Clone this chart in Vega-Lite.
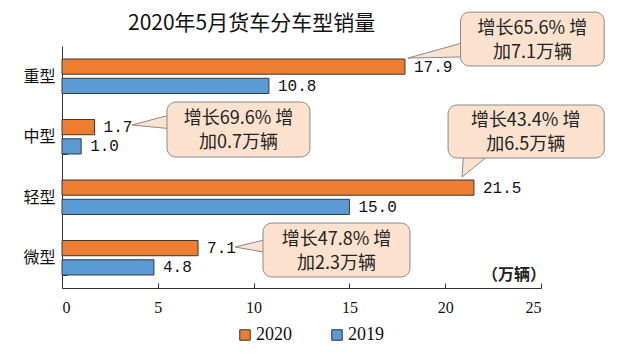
{
  "$schema": "https://vega.github.io/schema/vega-lite/v6.json",
  "width": 479,
  "height": 242,
  "autosize": "none",
  "padding": {"left": 62, "top": 46, "right": 88, "bottom": 66},
  "background": "white",
  "config": {"view": {"stroke": null}, "font": "Noto Sans CJK SC"},
  "title": {
    "text": "2020年5月货车分车型销量",
    "anchor": "start",
    "frame": "group",
    "dx": 66,
    "offset": -22,
    "fontSize": 21,
    "font": "Noto Sans CJK SC",
    "fontWeight": "normal",
    "color": "#111"
  },
  "datasets": {
    "bars": [
      {"cat": "重型", "year": "2020", "v": 17.9},
      {"cat": "重型", "year": "2019", "v": 10.8},
      {"cat": "中型", "year": "2020", "v": 1.7},
      {"cat": "中型", "year": "2019", "v": 1.0},
      {"cat": "轻型", "year": "2020", "v": 21.5},
      {"cat": "轻型", "year": "2019", "v": 15.0},
      {"cat": "微型", "year": "2020", "v": 7.1},
      {"cat": "微型", "year": "2019", "v": 4.8}
    ],
    "boxes": [
      {"id": 1, "x1": 20.8, "x2": 28.3, "y1": -0.56, "y2": 0.33, "tx": 24.55, "ty": -0.28, "t": "增长65.6% 增\n加7.1万辆"},
      {"id": 2, "x1": 5.48, "x2": 12.94, "y1": 0.926, "y2": 1.835, "tx": 9.21, "ty": 1.21, "t": "增长69.6% 增\n加0.7万辆"},
      {"id": 3, "x1": 20.15, "x2": 28.3, "y1": 0.975, "y2": 1.851, "tx": 24.2, "ty": 1.24, "t": "增长43.4% 增\n加6.5万辆"},
      {"id": 4, "x1": 10.49, "x2": 18.16, "y1": 2.926, "y2": 3.818, "tx": 14.33, "ty": 3.2, "t": "增长47.8% 增\n加2.3万辆"}
    ],
    "ptrV": [
      {"pid": 1, "x": 18.05, "ya": 0.2, "yb": 0.2},
      {"pid": 1, "x": 21.0, "ya": -0.06, "yb": 0.18},
      {"pid": 2, "x": 3.65, "ya": 1.306, "yb": 1.306},
      {"pid": 2, "x": 5.75, "ya": 1.13, "yb": 1.37},
      {"pid": 4, "x": 9.03, "ya": 3.322, "yb": 3.322},
      {"pid": 4, "x": 10.75, "ya": 3.19, "yb": 3.42}
    ],
    "ptrH": [
      {"pid": 3, "y": 2.165, "xa": 20.88, "xb": 20.88},
      {"pid": 3, "y": 1.8, "xa": 20.95, "xb": 22.3}
    ],
    "unit": [{"x": 25, "y": 3.78, "t": "（万辆）"}]
  },
  "layer": [
    {
      "data": {"name": "bars"},
      "encoding": {
        "y": {
          "field": "cat", "type": "nominal",
          "sort": ["重型", "中型", "轻型", "微型"],
          "scale": {"paddingInner": 0.43, "paddingOuter": 0.215},
          "title": null,
          "axis": {
            "domainColor": "#333", "tickColor": "#333",
            "tickBand": "extent", "tickSize": -5,
            "labelFont": "Noto Sans CJK SC", "labelFontSize": 16,
            "labelColor": "#111", "labelPadding": 12
          }
        },
        "yOffset": {"field": "year", "sort": ["2020", "2019"], "scale": {"paddingInner": 0.21}},
        "x": {
          "field": "v", "type": "quantitative",
          "scale": {"domain": [0, 25], "nice": false},
          "title": null,
          "axis": {
            "values": [0, 5, 10, 15, 20, 25],
            "grid": false,
            "domainColor": "#333", "tickColor": "#333", "tickSize": -5,
            "labelFont": "Liberation Serif", "labelFontSize": 16,
            "labelColor": "#111", "labelPadding": 16
          }
        }
      },
      "layer": [
        {
          "mark": {"type": "bar", "stroke": "#3a3a3a", "strokeWidth": 1},
          "encoding": {
            "color": {
              "field": "year", "type": "nominal",
              "scale": {"domain": ["2020", "2019"], "range": ["#ED7D31", "#5B9BD5"]},
              "legend": {
                "orient": "none", "legendX": 174, "legendY": 280,
                "direction": "horizontal", "title": null,
                "symbolType": "square", "symbolSize": 110,
                "symbolStrokeColor": "#333", "symbolStrokeWidth": 1,
                "labelFont": "Liberation Serif", "labelFontSize": 18,
                "labelColor": "#111", "columnPadding": 36, "labelOffset": 2
              }
            }
          }
        },
        {
          "mark": {"type": "text", "align": "left", "baseline": "middle", "dx": 9, "font": "Liberation Mono", "fontSize": 16, "color": "#111"},
          "encoding": {"text": {"field": "v", "type": "quantitative", "format": ".1f"}}
        }
      ]
    },
    {
      "layer": [
        {
          "data": {"name": "ptrV"},
          "mark": {"type": "area", "orient": "vertical", "fill": "#FCE2CE", "stroke": "#8a8a8a", "strokeWidth": 1},
          "encoding": {
            "x": {"field": "x", "type": "quantitative", "scale": {"domain": [0, 25], "nice": false}, "title": null},
            "y": {"field": "ya", "type": "quantitative", "stack": null, "scale": {"domain": [0, 4], "reverse": true, "nice": false, "zero": false}, "axis": null},
            "y2": {"field": "yb"},
            "detail": {"field": "pid", "type": "nominal"}
          }
        },
        {
          "data": {"name": "ptrH"},
          "mark": {"type": "area", "orient": "horizontal", "fill": "#FCE2CE", "stroke": "#8a8a8a", "strokeWidth": 1},
          "encoding": {
            "y": {"field": "y", "type": "quantitative", "scale": {"domain": [0, 4], "reverse": true, "nice": false, "zero": false}, "axis": null},
            "x": {"field": "xa", "type": "quantitative", "stack": null, "scale": {"domain": [0, 25], "nice": false}, "title": null},
            "x2": {"field": "xb"},
            "detail": {"field": "pid", "type": "nominal"}
          }
        },
        {
          "data": {"name": "boxes"},
          "mark": {"type": "rect", "fill": "#FCE2CE", "stroke": "#8a8a8a", "strokeWidth": 1, "cornerRadius": 9},
          "encoding": {
            "x": {"field": "x1", "type": "quantitative", "scale": {"domain": [0, 25], "nice": false}, "title": null},
            "x2": {"field": "x2"},
            "y": {"field": "y1", "type": "quantitative", "scale": {"domain": [0, 4], "reverse": true, "nice": false, "zero": false}, "axis": null},
            "y2": {"field": "y2"}
          }
        },
        {
          "data": {"name": "boxes"},
          "mark": {"type": "text", "align": "center", "baseline": "middle", "lineBreak": "\n", "lineHeight": 24, "font": "Noto Sans CJK SC", "fontSize": 18, "color": "#222"},
          "encoding": {
            "x": {"field": "tx", "type": "quantitative", "scale": {"domain": [0, 25], "nice": false}, "title": null},
            "y": {"field": "ty", "type": "quantitative", "scale": {"domain": [0, 4], "reverse": true, "nice": false, "zero": false}, "axis": null},
            "text": {"field": "t"}
          }
        },
        {
          "data": {"name": "unit"},
          "mark": {"type": "text", "align": "right", "baseline": "middle", "dx": 5, "font": "Noto Sans CJK SC", "fontSize": 16, "fontWeight": "bold", "color": "#222"},
          "encoding": {
            "x": {"field": "x", "type": "quantitative", "scale": {"domain": [0, 25], "nice": false}, "title": null},
            "y": {"field": "y", "type": "quantitative", "scale": {"domain": [0, 4], "reverse": true, "nice": false, "zero": false}, "axis": null},
            "text": {"field": "t"}
          }
        }
      ]
    }
  ],
  "resolve": {"scale": {"y": "independent"}, "axis": {"y": "independent"}}
}
